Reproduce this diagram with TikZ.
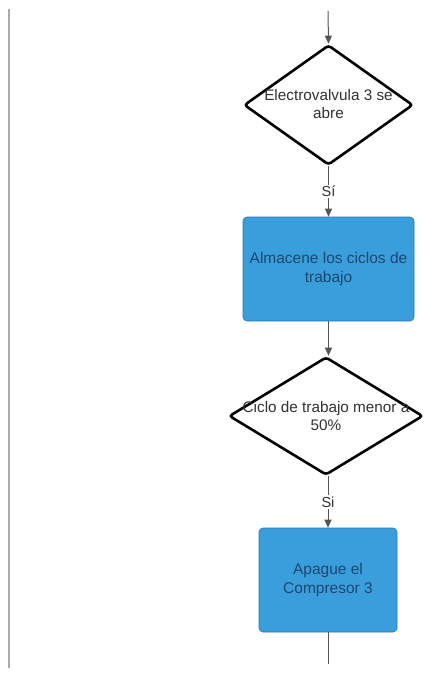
\documentclass[tikz,border=0pt]{standalone}
\usepackage{fontspec}
\setmainfont{Liberation Sans}
\usetikzlibrary{shapes.geometric,arrows.meta}
\definecolor{boxblue}{RGB}{58,158,220}
\definecolor{boxedge}{RGB}{40,120,180}
\definecolor{boxtext}{RGB}{28,72,110}
\definecolor{linegray}{RGB}{85,85,85}
\definecolor{txtgray}{RGB}{50,50,50}
\definecolor{railgray}{RGB}{170,170,170}
\tikzset{
  decision/.style={diamond, draw=black, line width=2.6pt, fill=white, rounded corners=3pt, inner sep=0pt},
  dtext/.style={align=center, text=txtgray, font=\fontsize{15.3}{17.5}\selectfont, inner sep=0pt},
  process/.style={rectangle, draw=boxedge, line width=0.6pt, fill=boxblue, rounded corners=4pt, align=center, text=boxtext, font=\fontsize{15.5}{18.5}\selectfont, inner sep=0pt},
  flow/.style={draw=linegray, line width=1pt, -{Triangle[length=8pt,width=7pt]}},
  flowplain/.style={draw=linegray, line width=1pt},
  yes/.style={fill=white, text=txtgray, font=\fontsize{14.5}{16}\selectfont, inner sep=1.5pt}
}
\begin{document}
\begin{tikzpicture}[x=1pt,y=-1pt]
\useasboundingbox[fill=white] (0,0) rectangle (425,673);
\coordinate (railtop) at (9,9);
\coordinate (railbot) at (9,668);
\draw[railgray, line width=2pt] (railtop) -- (railbot);

\coordinate (start) at (328,11);
\node[decision, minimum width=169pt, minimum height=120pt] (d1) at (328.5,105) {};
\node[dtext] (d1t) at (328.5,104) {Electrovalvula 3 se\\abre};

\node[process, minimum width=171pt, minimum height=104pt] (r1) at (328.5,269) {Almacene los ciclos de\\trabajo};

\node[decision, minimum width=194pt, minimum height=118pt] (d2) at (326,416) {};
\node[dtext] (d2t) at (326,416) {Ciclo de trabajo menor a\\50\%};

\node[process, minimum width=138pt, minimum height=104pt] (r2) at (328,580) {Apague el\\Compresor 3};
\coordinate (endp) at (328,664);

\draw[flow] (start) -- (d1.north);
\draw[flow] (d1.south) -- node[yes] (s1) {Sí} (r1.north);
\draw[flow] (r1.south) -- (d2.north -| r1.south);
\draw[flow] (d2.south -| r2.north) -- node[yes] (s2) {Si} (r2.north);
\draw[flowplain] (r2.south) -- (endp);
\end{tikzpicture}
\end{document}
